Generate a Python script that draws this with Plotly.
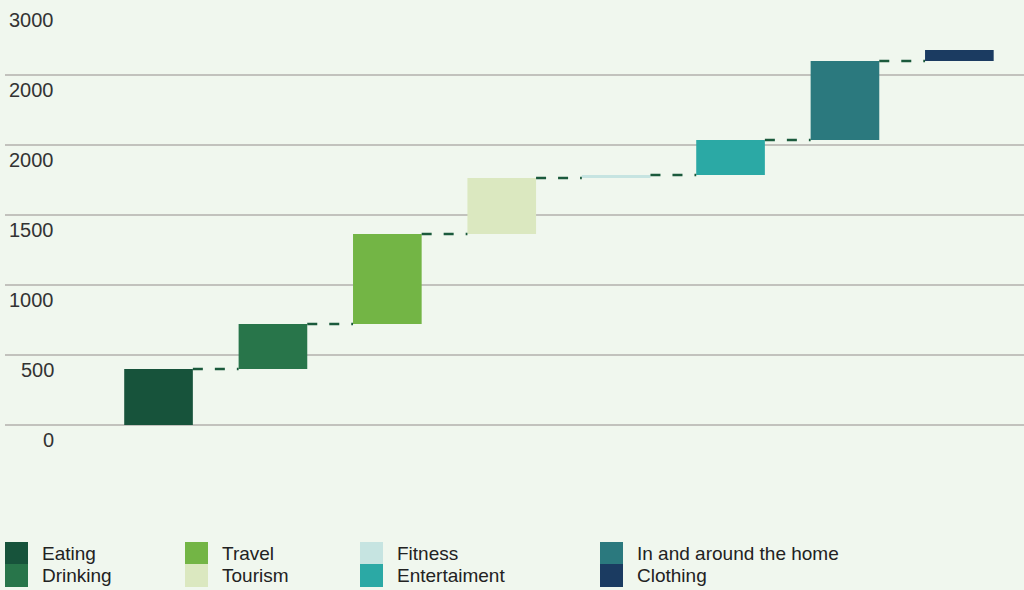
import plotly.graph_objects as go

categories = ["Eating", "Drinking", "Travel", "Tourism", "Fitness",
              "Entertaiment", "In and around the home", "Clothing"]
deltas = [400, 321, 643, 400, 22, 250, 564, 79]
colors = ["#17533b", "#28754a", "#73b545", "#dbe8c0", "#c6e4e1",
          "#2ba9a5", "#2b797e", "#1b3b61"]
tick_values = [3000, 2500, 2000, 1500, 1000, 500, 0]
tick_labels = ["3000", "2000", "2000", "1500", "1000", "500", "0"]

W, H = 1024, 590
ML, MR, MT, MB = 5, 0, 5, 165
PW, PH = W - ML - MR, H - MT - MB
BG = "#f0f7ee"

def px(x):
    return (x - ML) / PW

def py(y):
    return (H - MB - y) / PH

bases = []
tops = []
c = 0
for d in deltas:
    bases.append(c)
    c += d
    tops.append(c)

xs = list(range(len(categories)))
bar_w = 0.6

fig = go.Figure()
fig.add_trace(go.Bar(x=xs, y=deltas, base=bases, width=bar_w,
                     marker=dict(color=colors, line=dict(width=0)),
                     showlegend=False, hoverinfo="skip"))

for i in range(len(categories) - 1):
    fig.add_trace(go.Scatter(
        x=[xs[i] + bar_w / 2, xs[i + 1] - bar_w / 2],
        y=[tops[i], tops[i]], mode="lines",
        line=dict(color="#1b5a3c", width=2.5, dash="10px,12px"),
        showlegend=False, hoverinfo="skip"))

# tick labels below gridlines
for v, t in zip(tick_values, tick_labels):
    fig.add_annotation(x=px(56), xref="paper", y=v, yref="y",
                       text=t, showarrow=False, xanchor="right", yanchor="top",
                       yshift=-2,
                       font=dict(family="Liberation Sans", size=20, color="#333333"))

# custom legend
legend_cols = [5, 185, 360, 600]
row_tops = [542, 564]
shapes = []
for idx, (name, col) in enumerate(zip(categories, colors)):
    ci, ri = idx // 2, idx % 2
    x0 = legend_cols[ci]
    y0 = row_tops[ri]
    shapes.append(dict(type="rect", xref="paper", yref="paper",
                       x0=px(x0), x1=px(x0 + 23), y0=py(y0), y1=py(y0 + 23),
                       fillcolor=col, line=dict(width=0), layer="above"))
    fig.add_annotation(x=px(x0 + 35), xref="paper", y=py(y0 + 11.5), yref="paper",
                       text=name, showarrow=False, xanchor="left", yanchor="middle",
                       font=dict(family="Liberation Sans", size=19, color="#222222"))

fig.update_layout(
    width=W, height=H,
    margin=dict(l=ML, r=MR, t=MT, b=MB),
    paper_bgcolor=BG, plot_bgcolor=BG,
    shapes=shapes,
    xaxis=dict(range=[-1.342, 7.565], showgrid=False, zeroline=False,
               showticklabels=False, ticks="", showline=False, fixedrange=True),
    yaxis=dict(range=[0, 3000], tickvals=tick_values, showticklabels=False,
               showgrid=True, gridcolor="#c2c2bd", gridwidth=1.5,
               zeroline=True, zerolinecolor="#c2c2bd", zerolinewidth=1.5,
               showline=False, ticks="", fixedrange=True),
)

fig.write_html("out.html", config={"displayModeBar": False},
               post_script="document.body.style.margin='0';"
                           "document.body.style.overflow='hidden';"
                           "document.body.style.background='" + BG + "';")
